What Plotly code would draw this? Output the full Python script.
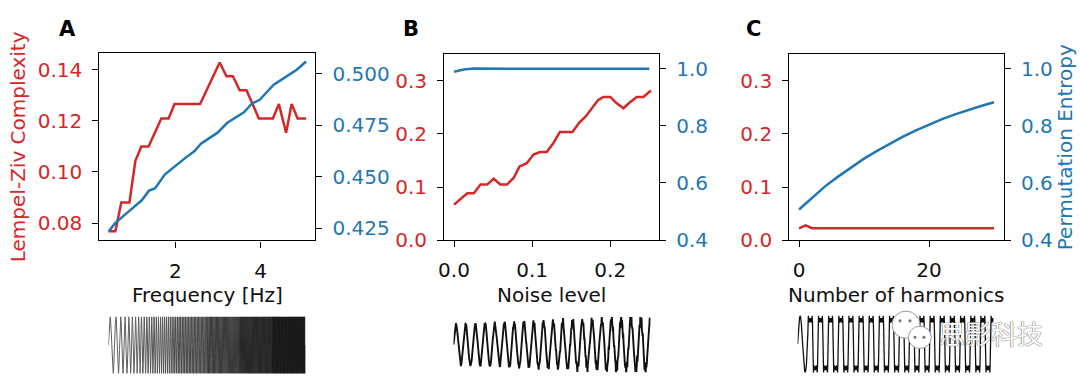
import numpy as np
import plotly.graph_objects as go

W, H = 1080, 391
RED = "#d62728"
BLUE = "#1f77b4"
FONT = "DejaVu Sans"
FS = 20

# ---------------- data ----------------
# Panel A: frequency sweep
freq_lzc = [0.43, 0.59, 0.73, 0.92, 1.06, 1.20, 1.37, 1.67, 1.84, 1.98, 2.58, 3.04, 3.20,
            3.35, 3.51, 3.67, 3.96, 4.29, 4.43, 4.60, 4.73, 4.87, 5.07]
lzc_freq = [0.0768, 0.0768, 0.0880, 0.0880, 0.1044, 0.1100, 0.1100, 0.1210, 0.1210, 0.1266,
            0.1266, 0.1429, 0.1375, 0.1375, 0.1320, 0.1320, 0.1210, 0.1210, 0.1266, 0.1154,
            0.1266, 0.1210, 0.1210]
freq_pe = [0.43, 0.59, 0.90, 1.21, 1.38, 1.52, 1.75, 1.98, 2.22, 2.45, 2.60, 2.99, 3.22,
           3.61, 3.80, 3.98, 4.31, 4.62, 4.85, 5.07]
pe_freq = [0.4233, 0.4275, 0.4330, 0.4385, 0.4432, 0.4443, 0.4510, 0.4550, 0.4589, 0.4625,
           0.4660, 0.4714, 0.4762, 0.4813, 0.4856, 0.4874, 0.4947, 0.4989, 0.5020, 0.5060]

# Panel B: noise level
noise_lzc = [0.0, 0.017, 0.0254, 0.0339, 0.0424, 0.0508, 0.0593, 0.0678, 0.0763, 0.0839,
             0.0932, 0.1017, 0.1102, 0.1186, 0.1271, 0.1356, 0.1517, 0.1602, 0.1686, 0.1771,
             0.1843, 0.1915, 0.2000, 0.2076, 0.2169, 0.2246, 0.2339, 0.2424, 0.2521]
lzc_noise = [0.0669, 0.0882, 0.0882, 0.1046, 0.1046, 0.1156, 0.1046, 0.1046, 0.1170, 0.1387,
             0.1448, 0.1612, 0.1660, 0.1660, 0.1825, 0.2038, 0.2038, 0.2209, 0.2330, 0.2483,
             0.2635, 0.2696, 0.2696, 0.2586, 0.2483, 0.2586, 0.2696, 0.2696, 0.2817]
noise_pe = [0.0, 0.0125, 0.025, 0.05, 0.10, 0.15, 0.20, 0.25]
pe_noise = [0.989, 0.997, 1.000, 1.000, 1.000, 1.000, 0.9995, 0.999]

# Panel C: number of harmonics
harm_lzc = [0, 1, 2, 5, 10, 15, 20, 25, 30]
lzc_harm = [0.0219, 0.0279, 0.0225, 0.0225, 0.0225, 0.0225, 0.0225, 0.0225, 0.0225]
harm_pe = [0, 2, 4, 6, 8, 10, 12, 14, 16, 18, 20, 22, 24, 26, 28, 30]
pe_harm = [0.507, 0.549, 0.588, 0.622, 0.655, 0.685, 0.712, 0.738, 0.762, 0.784, 0.804,
           0.823, 0.840, 0.855, 0.869, 0.882]

# tick labels
xt_A = [2, 4]; xt_A_lbl = ["2", "4"]
yl_A = [0.08, 0.10, 0.12, 0.14]; yl_A_lbl = ["0.08", "0.10", "0.12", "0.14"]
yr_A = [0.425, 0.45, 0.475, 0.5]; yr_A_lbl = ["0.425", "0.450", "0.475", "0.500"]
xt_B = [0.0, 0.1, 0.2]; xt_B_lbl = ["0.0", "0.1", "0.2"]
xt_C = [0, 20]; xt_C_lbl = ["0", "20"]
yl_BC = [0.0, 0.1, 0.2, 0.3]; yl_BC_lbl = ["0.0", "0.1", "0.2", "0.3"]
yr_BC = [0.4, 0.6, 0.8, 1.0]; yr_BC_lbl = ["0.4", "0.6", "0.8", "1.0"]

# example-signal parameters (illustrations under each panel)
chirp_f0, chirp_f1, chirp_cycles_scale = 0.5, 5.0, 56.0
noisy_cycles = 20.25
harm_cycles = 19.3
harm_orders = [1, 3, 5, 7]

# ---------------- helpers ----------------
def px(x):
    return x / W

def py(y):
    return 1 - y / H

fig = go.Figure()

def line(x, y, xa, ya, color, width=2.5):
    fig.add_trace(go.Scatter(x=x, y=y, xaxis=xa, yaxis=ya, mode="lines",
                             line=dict(color=color, width=width), hoverinfo="skip",
                             showlegend=False))

line(freq_lzc, lzc_freq, "x", "y", RED)
line(freq_pe, pe_freq, "x", "y2", BLUE)
line(noise_lzc, lzc_noise, "x2", "y3", RED)
line(noise_pe, pe_noise, "x2", "y4", BLUE)
line(harm_lzc, lzc_harm, "x3", "y5", RED)
line(harm_pe, pe_harm, "x3", "y6", BLUE)

# ---- example signals ----
t = np.linspace(0, 1, 12000)
phase = 2 * np.pi * chirp_cycles_scale * (chirp_f0 * t + (chirp_f1 - chirp_f0) * t ** 2 / 2)
sig_a = np.sin(phase)
grays = ["#606060", "#555555", "#4a4a4a", "#3a3a3a", "#282828", "#1a1a1a"]
nseg = len(grays)
for i, g in enumerate(grays):
    lo = int(i * len(t) / nseg)
    hi = int((i + 1) * len(t) / nseg) + 1
    line(t[lo:hi], sig_a[lo:hi], "x4", "y7", g, width=1.0)

tb = np.linspace(0, 1, 3000)
amp = 0.82 + 0.18 * tb
jit = tb * 0.16 * (np.sin(2 * np.pi * 173 * tb) + 0.6 * np.sin(2 * np.pi * 311 * tb + 1.0))
sig_b = amp * np.sin(2 * np.pi * noisy_cycles * tb) + jit
line(tb, sig_b, "x5", "y8", "#111111", width=1.9)

tc = np.linspace(0, harm_cycles, 8000)
sq = sum(np.sin(2 * np.pi * k * tc) / k for k in harm_orders) * 4 / np.pi / 1.18
sig_c = np.where(tc < 1.0, np.sin(2 * np.pi * tc), sq)
line(tc, sig_c, "x6", "y9", "#111111", width=1.3)

# ---------------- layout ----------------
tickfont = dict(family=FONT, size=FS, color="#111111")

def xax(dom, rng, tv, tl, anchor):
    return dict(domain=dom, range=rng, tickvals=tv, ticktext=tl, anchor=anchor,
                showline=True, mirror=True, linecolor="black", linewidth=1.4,
                ticks="outside", ticklen=6, tickwidth=1.3, tickcolor="black",
                showgrid=False, zeroline=False, tickfont=tickfont, ticklabelstandoff=6,
                fixedrange=True)

def yax(dom, rng, tv, tl, anchor, color, side="left", overlay=None, title=None):
    d = dict(domain=dom, range=rng, tickvals=tv, ticktext=tl, anchor=anchor, side=side,
             showline=True, linecolor="black", linewidth=1.4,
             ticks="outside", ticklen=6, tickwidth=1.3, tickcolor="black",
             showgrid=False, zeroline=False,
             tickfont=dict(family=FONT, size=FS, color=color), ticklabelstandoff=6,
             fixedrange=True)
    if overlay:
        d["overlaying"] = overlay
    if title:
        d["title"] = dict(text=title, font=dict(family=FONT, size=FS, color=color),
                          standoff=6)
    return d

domA = [px(94), px(311)]
domB = [px(440.7), px(656.7)]
domC = [px(787.7), px(1003.3)]
ydA = [py(248), py(55)]
ydBC = [py(247.7), py(56)]

hidden = dict(visible=False, fixedrange=True)

layout = dict(
    width=W, height=H, margin=dict(l=0, r=0, t=0, b=0),
    paper_bgcolor="white", plot_bgcolor="rgba(0,0,0,0)",
    showlegend=False,
    xaxis=xax(domA, [0.217, 5.285], xt_A, xt_A_lbl, "y"),
    yaxis=yax(ydA, [0.0732, 0.1465], yl_A, yl_A_lbl, "x", RED,
              title="Lempel-Ziv Complexity"),
    yaxis2=yax(ydA, [0.419, 0.510], yr_A, yr_A_lbl, "x", BLUE, side="right", overlay="y"),
    xaxis2=xax(domB, [-0.0125, 0.2625], xt_B, xt_B_lbl, "y3"),
    yaxis3=yax(ydBC, [0.0, 0.35], yl_BC, yl_BC_lbl, "x2", RED),
    yaxis4=yax(ydBC, [0.4, 1.05], yr_BC, yr_BC_lbl, "x2", BLUE, side="right", overlay="y3"),
    xaxis3=xax(domC, [-1.5, 31.5], xt_C, xt_C_lbl, "y5"),
    yaxis5=yax(ydBC, [0.0, 0.35], yl_BC, yl_BC_lbl, "x3", RED),
    yaxis6=yax(ydBC, [0.4, 1.05], yr_BC, yr_BC_lbl, "x3", BLUE, side="right", overlay="y5",
               title="Permutation Entropy"),
    xaxis4=dict(hidden, domain=[px(103), px(301)], range=[0, 1], anchor="y7"),
    yaxis7=dict(hidden, domain=[py(386), py(326)], range=[-1.03, 1.03], anchor="x4"),
    xaxis5=dict(hidden, domain=[px(450), px(648)], range=[0, 1], anchor="y8"),
    yaxis8=dict(hidden, domain=[py(384), py(327)], range=[-1.1, 1.1], anchor="x5"),
    xaxis6=dict(hidden, domain=[px(796), px(993)], range=[0, harm_cycles], anchor="y9"),
    yaxis9=dict(hidden, domain=[py(385), py(325)], range=[-1.03, 1.03], anchor="x6"),
)

ann = []
def text(x, y, s, size=FS, color="#111111", angle=0, bold=False, family=FONT,
         xanchor="center", **kw):
    ann.append(dict(x=px(x), y=py(y), xref="paper", yref="paper", text=s, showarrow=False,
                    textangle=angle, xanchor=xanchor, yanchor="middle",
                    font=dict(family=family, size=size, color=color,
                              weight="bold" if bold else "normal", **kw)))

text(202.5, 304, "Frequency [Hz]")
text(548.7, 304, "Noise level")
text(895.5, 304, "Number of harmonics")
text(62, 30, "A", size=21, bold=True, color="black")
text(407, 30, "B", size=21, bold=True, color="black")
text(752, 30, "C", size=21, bold=True, color="black")
text(990, 343, "思影科技", size=26, color="white", family="Noto Sans CJK SC",
     shadow="0px 0px 1px #555, 0px 0px 1px #555")
layout["annotations"] = ann

# WeChat-style watermark icon (decoration)
def circ(cx, cy, r):
    return dict(type="circle", xref="paper", yref="paper",
                x0=px(cx - r), x1=px(cx + r), y0=py(cy + r), y1=py(cy - r),
                fillcolor="white", line=dict(color="#9a9a9a", width=1), layer="above")

def dot(cx, cy, r=1.6):
    return dict(type="circle", xref="paper", yref="paper",
                x0=px(cx - r), x1=px(cx + r), y0=py(cy + r), y1=py(cy - r),
                fillcolor="#777777", line=dict(width=0), layer="above")

layout["shapes"] = [circ(905, 335, 14), dot(899, 331), dot(909, 331),
                    circ(919, 348, 11.5), dot(914, 348), dot(923, 348)]

fig.update_layout(**layout)
fig.write_html("out.html", config={"displayModeBar": False},
               post_script="document.body.style.margin='0';document.body.style.overflow='hidden';")
